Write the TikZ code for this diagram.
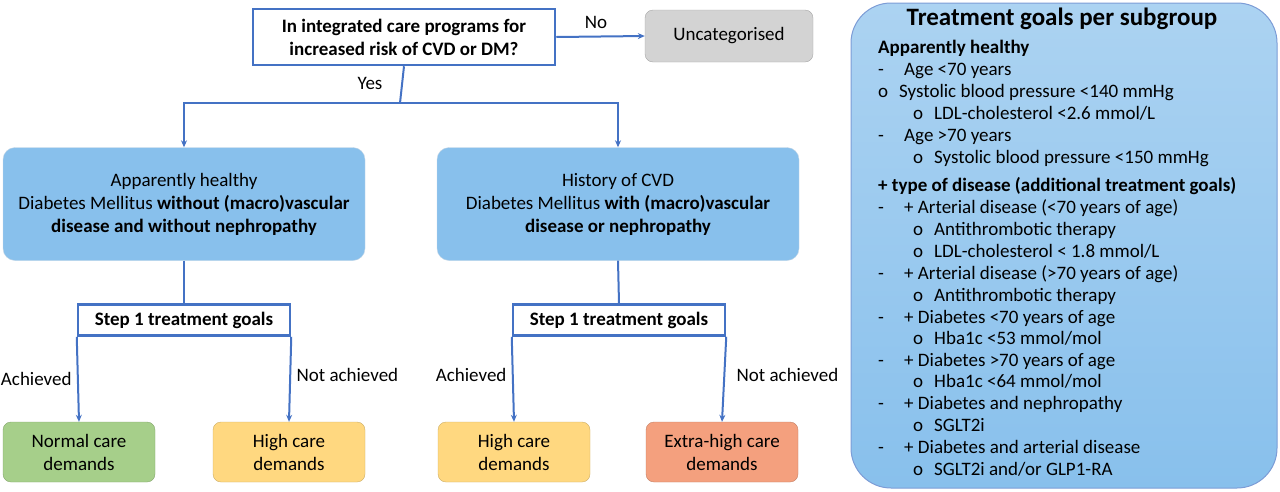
\documentclass[tikz,border=0pt]{standalone}
\usepackage{fontspec}
\setmainfont{Carlito}
\usetikzlibrary{positioning,arrows.meta}
\definecolor{lineblue}{HTML}{4472C4}
\definecolor{boxblue}{HTML}{88C0EC}
\definecolor{panelblue}{HTML}{8EC2EE}
\definecolor{greenbox}{HTML}{A6CF8A}
\definecolor{yellowbox}{HTML}{FFD880}
\definecolor{redbox}{HTML}{F4A07E}
\definecolor{greybox}{HTML}{D3D3D3}
\begin{document}
\begin{tikzpicture}[x=1pt,y=-1pt,font=\fontsize{19}{23}\selectfont,
	arrow/.style = {draw=lineblue, line width=2pt, -{Stealth[length=7pt,width=6pt]}},
	link/.style = {draw=lineblue, line width=2pt},
	question/.style = {draw=lineblue, line width=2.5pt, fill=white, font=\fontsize{19}{23}\selectfont\bfseries, align=center, minimum width=302pt, minimum height=56pt},
	group node/.style = {rounded corners=12pt, draw=boxblue!80!black!40, fill=boxblue, align=center, minimum width=362pt, minimum height=113pt},
	step node/.style = {draw=lineblue, line width=2.5pt, fill=white, font=\fontsize{19}{23}\selectfont\bfseries, minimum width=212pt, minimum height=31pt},
	demand node/.style = {rounded corners=8pt, draw=#1!80!black, fill=#1, align=center, minimum width=152pt, minimum height=60pt},
	panel line/.style = {anchor=west, inner sep=0pt, text height=1.5ex, text depth=.25ex}]

\useasboundingbox (0,0) rectangle (1280,491);

% decision part
\node[question] (q) at (404,37) {In integrated care programs for\\increased risk of CVD or DM?};
\node[rounded corners=8pt, draw=gray!70, fill=greybox, minimum width=168pt, minimum height=52pt] (unc) at (729,36) {Uncategorised};
\draw[arrow] (q.east) -- node[above=4pt, pos=0.45] (no) {No} (unc.west);

\node[group node] (ah) at (184,204) {Apparently healthy\\Diabetes Mellitus \textbf{without (macro)vascular}\\\textbf{disease and without nephropathy}};
\node[group node] (cvd) at (618,204) {History of CVD\\Diabetes Mellitus \textbf{with (macro)vascular}\\\textbf{disease or nephropathy}};

\coordinate (split) at (400,103);
\node (yes) at (370,83) {Yes};
\draw[link] (q.south) -- (split);
\draw[arrow] (split) -| (ah.north);
\draw[arrow] (split) -| (cvd.north);

\node[step node] (s1) at (184,320) {Step 1 treatment goals};
\node[step node] (s2) at (619,320) {Step 1 treatment goals};
\draw[link] (ah.south) -- (s1.north);
\draw[link] (cvd.south) -- (s2.north);

\node[demand node=greenbox] (d1) at (79,452) {Normal care\\demands};
\node[demand node=yellowbox] (d2) at (289,452) {High care\\demands};
\node[demand node=yellowbox] (d3) at (514,452) {High care\\demands};
\node[demand node=redbox] (d4) at (722,452) {Extra-high care\\demands};

\draw[arrow] (s1.south west) -- node[left=2pt, pos=0.5] (a1) {Achieved} (d1.north);
\draw[arrow] (s1.south east) -- node[right=2pt, pos=0.45] (n1) {Not achieved} (d2.north);
\draw[arrow] (s2.south west) -- node[left=2pt, pos=0.45] (a2) {Achieved} (d3.north);
\draw[arrow] (s2.south east) -- node[right=8pt, pos=0.45] (n2) {Not achieved} (d4.north);

% treatment goals panel
\node[rounded corners=40pt, draw=lineblue!70, line width=1pt, top color=boxblue!70!white, bottom color=boxblue, minimum width=426pt, minimum height=485pt] (panel) at (1064,245.5) {};
\node[font=\fontsize{25}{28}\selectfont\bfseries] (title) at (1062,19) {Treatment goals per subgroup};
\node[panel line, font=\fontsize{19}{23}\selectfont\bfseries] (h1) at (878,51) {Apparently healthy};
\node[panel line, font=\fontsize{19}{23}\selectfont\bfseries] (h2) at (878,189) {+ type of disease (additional treatment goals)};
\foreach \y/\lvl/\txt [count=\i] in {
	73/0/{Age <70 years}, 95/1/{Systolic blood pressure <140 mmHg}, 117/2/{LDL-cholesterol <2.6 mmol/L},
	139/0/{Age >70 years}, 161/2/{Systolic blood pressure <150 mmHg},
	211/0/{+ Arterial disease (<70 years of age)}, 233/2/{Antithrombotic therapy}, 255/2/{LDL-cholesterol < 1.8 mmol/L},
	277/0/{+ Arterial disease (>70 years of age)}, 299/2/{Antithrombotic therapy},
	321/0/{+ Diabetes <70 years of age}, 342/2/{Hba1c <53 mmol/mol},
	364/0/{+ Diabetes >70 years of age}, 385/2/{Hba1c <64 mmol/mol},
	407/0/{+ Diabetes and nephropathy}, 429/2/{SGLT2i},
	451/0/{+ Diabetes and arterial disease}, 473/2/{SGLT2i and/or GLP1-RA}}{
	\ifcase\lvl
		\node[panel line] (m\i) at (878,\y) {-};
		\node[panel line] (t\i) at (904,\y) {\txt};
	\or
		\node[panel line] (m\i) at (878,\y) {o};
		\node[panel line] (t\i) at (899,\y) {\txt};
	\else
		\node[panel line] (m\i) at (913,\y) {o};
		\node[panel line] (t\i) at (934,\y) {\txt};
	\fi
}
\end{tikzpicture}
\end{document}
